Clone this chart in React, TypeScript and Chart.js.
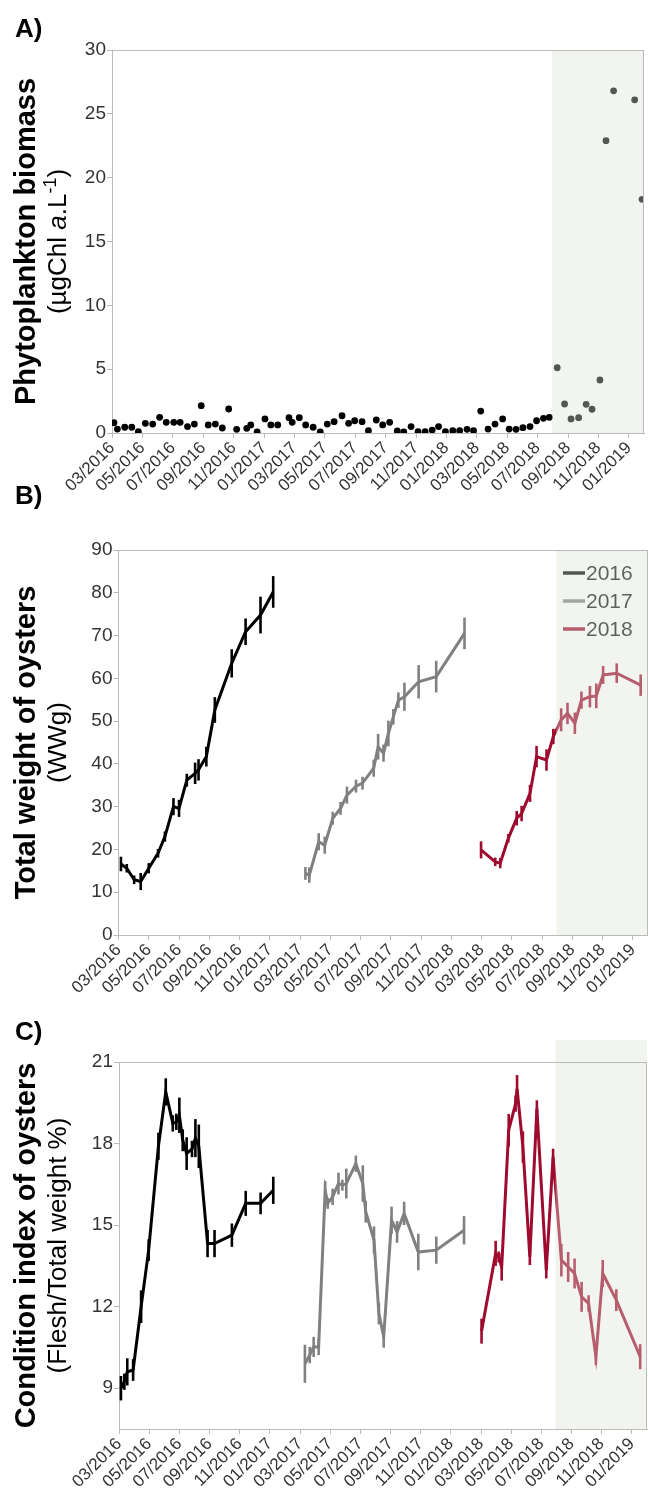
import React, { useEffect, useRef } from "react";
import { Chart, registerables } from "chart.js";
Chart.register(...registerables);

const FONT = "'Liberation Sans', Arial, Helvetica, sans-serif";

// ---------- shared axis data ----------
const xTickLabels = [
  "03/2016", "05/2016", "07/2016", "09/2016", "11/2016", "01/2017",
  "03/2017", "05/2017", "07/2017", "09/2017", "11/2017", "01/2018",
  "03/2018", "05/2018", "07/2018", "09/2018", "11/2018", "01/2019",
];
const shadeStart = "2018-07-30";
const legendLabels = ["2016", "2017", "2018"];
const seriesColors = ["#000000", "#808080", "#9e0b2f"];

// ---------- Panel A: phytoplankton biomass ----------
const chlDates = [
  "2016-03-05", "2016-03-12", "2016-03-27", "2016-04-10", "2016-04-23", "2016-05-07", "2016-05-22", "2016-06-05", "2016-06-18", "2016-07-03",
  "2016-07-16", "2016-07-31", "2016-08-14", "2016-08-28", "2016-09-11", "2016-09-25", "2016-10-09", "2016-10-22", "2016-11-07", "2016-11-27",
  "2016-12-05", "2016-12-18", "2017-01-03", "2017-01-15", "2017-01-29", "2017-02-19", "2017-02-25", "2017-03-11", "2017-03-24", "2017-04-08",
  "2017-04-22", "2017-05-06", "2017-05-20", "2017-06-05", "2017-06-18", "2017-06-30", "2017-07-15", "2017-07-28", "2017-08-13", "2017-08-26",
  "2017-09-09", "2017-09-24", "2017-10-07", "2017-10-22", "2017-11-05", "2017-11-19", "2017-12-03", "2017-12-16", "2017-12-30", "2018-01-14",
  "2018-01-28", "2018-02-11", "2018-02-23", "2018-03-09", "2018-03-24", "2018-04-07", "2018-04-22", "2018-05-05", "2018-05-19", "2018-06-02",
  "2018-06-16", "2018-06-29", "2018-07-13", "2018-07-25", "2018-08-10", "2018-08-25", "2018-09-07", "2018-09-22", "2018-10-07", "2018-10-19",
  "2018-11-04", "2018-11-16", "2018-12-01", "2019-01-13", "2019-01-28",
];
const chlValues = [
  0.81, 0.31, 0.45, 0.45, 0.10, 0.76, 0.70, 1.23, 0.84, 0.84,
  0.84, 0.50, 0.70, 2.14, 0.63, 0.70, 0.39, 1.88, 0.29, 0.37,
  0.63, 0.08, 1.10, 0.63, 0.63, 1.20, 0.84, 1.20, 0.63, 0.45,
  0.08, 0.70, 0.89, 1.35, 0.76, 0.96, 0.89, 0.18, 1.02, 0.63,
  0.84, 0.16, 0.08, 0.50, 0.10, 0.10, 0.23, 0.50, 0.10, 0.18,
  0.18, 0.29, 0.18, 1.72, 0.31, 0.70, 1.10, 0.31, 0.29, 0.42,
  0.50, 0.96, 1.15, 1.23, 5.11, 2.27, 1.10, 1.20, 2.25, 1.86,
  4.15, 22.9, 26.8, 26.1, 18.3,
];
const yTicksA = [0, 5, 10, 15, 20, 25, 30];

// ---------- Panel B: total weight ----------
const weightDates2016 = [
  "2016-03-06", "2016-03-18", "2016-04-02", "2016-04-15", "2016-05-01", "2016-05-20", "2016-06-03", "2016-06-20", "2016-07-01",
  "2016-07-17", "2016-08-03", "2016-08-10", "2016-08-26", "2016-09-12", "2016-10-16", "2016-11-13", "2016-12-13", "2017-01-08",
];
const weight2016 = [16.6, 15.6, 12.9, 12.5, 15.6, 19.1, 23.0, 30.0, 29.6, 36.2, 37.8, 38.6, 41.7, 52.6, 63.5, 70.9, 74.8, 80.2];
const weightErr2016 = [1.7, 1.0, 1.0, 2.0, 1.2, 1.0, 1.2, 2.0, 2.0, 1.5, 2.5, 2.5, 2.3, 3.0, 3.3, 3.1, 4.3, 3.7];

const weightDates2017 = [
  "2017-03-12", "2017-03-20", "2017-04-08", "2017-04-20", "2017-05-06", "2017-05-22", "2017-06-04", "2017-06-22", "2017-07-05", "2017-07-28",
  "2017-08-06", "2017-08-17", "2017-08-27", "2017-09-06", "2017-09-16", "2017-09-28", "2017-10-27", "2017-12-01", "2018-01-28",
];
const weight2017 = [14.4, 14.0, 21.8, 21.0, 27.3, 29.6, 32.7, 34.8, 35.5, 39.0, 44.0, 42.5, 47.1, 51.0, 54.9, 55.7, 59.2, 60.4, 70.5];
const weightErr2017 = [1.5, 1.8, 2.0, 2.0, 1.5, 1.5, 2.0, 1.5, 1.5, 2.0, 3.0, 2.0, 3.0, 1.8, 1.8, 3.3, 3.9, 3.7, 3.7];

const weightDates2018 = [
  "2018-02-28", "2018-03-29", "2018-04-08", "2018-04-24", "2018-05-11", "2018-05-21", "2018-06-07", "2018-06-20", "2018-07-10", "2018-07-24",
  "2018-08-09", "2018-08-22", "2018-09-06", "2018-09-19", "2018-10-06", "2018-10-19", "2018-11-02", "2018-11-29", "2019-01-17",
];
const weight2018 = [19.9, 17.1, 16.8, 22.6, 27.3, 28.4, 33.1, 41.7, 40.9, 46.4, 50.3, 51.8, 49.5, 54.9, 55.7, 55.9, 60.8, 61.2, 58.4];
const weightErr2018 = [2.0, 1.0, 1.2, 1.0, 1.7, 1.8, 2.0, 2.5, 2.5, 1.8, 2.7, 2.5, 2.5, 2.0, 2.5, 2.9, 2.1, 2.3, 2.5];
const yTicksB = [0, 10, 20, 30, 40, 50, 60, 70, 80, 90];

// ---------- Panel C: condition index ----------
const ciDates2016 = [
  "2016-03-05", "2016-03-12", "2016-03-18", "2016-03-30", "2016-04-15", "2016-04-30", "2016-05-20", "2016-06-04", "2016-06-18", "2016-06-25", "2016-07-01",
  "2016-07-08", "2016-07-16", "2016-07-27", "2016-08-03", "2016-08-10", "2016-08-28", "2016-09-11", "2016-10-16", "2016-11-13", "2016-12-13", "2017-01-08",
];
const ci2016 = [9.0, 9.24, 9.6, 9.67, 12.0, 14.08, 17.9, 19.9, 18.74, 18.8, 19.04, 18.12, 17.63, 17.8, 18.2, 17.9, 14.32, 14.32, 14.63, 15.8, 15.8, 16.28];
const ciErr2016 = [0.45, 0.3, 0.5, 0.4, 0.6, 0.4, 0.5, 0.5, 0.3, 0.3, 0.65, 0.4, 0.6, 0.3, 0.7, 0.8, 0.5, 0.5, 0.43, 0.46, 0.4, 0.5];

const ciDates2017 = [
  "2017-03-11", "2017-03-21", "2017-03-29", "2017-04-08", "2017-04-21", "2017-04-26", "2017-05-06", "2017-05-18", "2017-05-26", "2017-06-03", "2017-06-22",
  "2017-07-06", "2017-07-12", "2017-07-29", "2017-08-08", "2017-08-18", "2017-09-03", "2017-09-14", "2017-09-28", "2017-10-27", "2017-12-02", "2018-01-28",
];
const ci2017 = [9.9, 10.22, 10.52, 10.52, 16.28, 15.8, 16.04, 16.53, 16.47, 16.53, 17.26, 16.53, 15.49, 14.45, 11.75, 10.89, 15.18, 14.75, 15.43, 14.01, 14.08, 14.81];
const ciErr2017 = [0.7, 0.3, 0.37, 0.3, 0.34, 0.2, 0.3, 0.4, 0.2, 0.55, 0.3, 0.67, 0.4, 0.5, 0.4, 0.4, 0.5, 0.4, 0.43, 0.67, 0.5, 0.52];

const ciDates2018 = [
  "2018-03-02", "2018-03-31", "2018-04-06", "2018-04-12", "2018-04-26", "2018-05-10", "2018-05-13", "2018-05-25", "2018-06-08", "2018-06-22", "2018-07-11",
  "2018-07-25", "2018-08-11", "2018-08-25", "2018-09-07", "2018-09-21", "2018-10-05", "2018-10-20", "2018-11-03", "2018-11-30", "2019-01-18",
];
const ci2018 = [11.1, 13.96, 13.83, 13.46, 18.49, 19.47, 20.02, 17.87, 13.83, 19.29, 13.34, 17.51, 13.71, 13.46, 13.22, 12.36, 12.12, 10.16, 13.22, 12.24, 10.16];
const ciErr2018 = [0.46, 0.46, 0.2, 0.5, 0.6, 0.3, 0.5, 0.58, 0.3, 0.3, 0.3, 0.3, 0.6, 0.55, 0.55, 0.55, 0.3, 0.3, 0.5, 0.4, 0.46];
const yTicksC = [9, 12, 15, 18, 21];

// ---------- helpers ----------
function monthIndex(s: string): number {
  const [y, m, d] = s.split("-").map(Number);
  const dim = new Date(y, m, 0).getDate();
  return (y - 2016) * 12 + (m - 3) + (d - 1) / dim;
}

const PAGE_W = 648;
const PAGE_H = 1506;

type Box = { left: number; right: number; top: number; bottom: number };

function xScale() {
  return {
    type: "linear",
    min: 0,
    max: 35,
    afterBuildTicks: (s: any) => {
      s.ticks = xTickLabels.map((_, i) => ({ value: i * 2 }));
    },
    ticks: {
      autoSkip: false,
      maxRotation: 45,
      minRotation: 45,
      padding: 0,
      color: "#333",
      font: { family: FONT, size: 17 },
      callback: (v: number) => xTickLabels[Math.round(v / 2)] ?? "",
    },
    grid: { display: true, drawOnChartArea: false, drawTicks: true, tickLength: 5, color: "#bbbbbb" },
    border: { display: true, color: "#bbbbbb", width: 1 },
    afterFit: (s: any) => {
      s.height = 57;
    },
  };
}

function yScale(min: number, max: number, ticks: number[], width: number) {
  return {
    type: "linear",
    min,
    max,
    afterBuildTicks: (s: any) => {
      s.ticks = ticks.map((v) => ({ value: v }));
    },
    ticks: { padding: 1, color: "#333", font: { family: FONT, size: 19 } },
    grid: { display: true, drawOnChartArea: false, drawTicks: true, tickLength: 5, color: "#bbbbbb" },
    border: { display: true, color: "#bbbbbb", width: 1 },
    afterFit: (s: any) => {
      s.width = width;
    },
  };
}

type Part = { t: string; italic?: boolean; sup?: boolean };

function drawRotated(ctx: CanvasRenderingContext2D, x: number, cy: number, parts: Part[], size: number, bold: boolean) {
  ctx.save();
  ctx.translate(x, cy);
  ctx.rotate(-Math.PI / 2);
  ctx.fillStyle = "#000";
  ctx.textBaseline = "alphabetic";
  ctx.textAlign = "left";
  const fontOf = (p: Part) =>
    `${p.italic ? "italic " : ""}${bold ? "bold " : ""}${p.sup ? Math.round(size * 0.7) : size}px ${FONT}`;
  let total = 0;
  for (const p of parts) {
    ctx.font = fontOf(p);
    total += ctx.measureText(p.t).width;
  }
  let cx = -total / 2;
  for (const p of parts) {
    ctx.font = fontOf(p);
    ctx.fillText(p.t, cx, p.sup ? -size * 0.4 : 0);
    cx += ctx.measureText(p.t).width;
  }
  ctx.restore();
}

function decorPlugin(opts: {
  id: string;
  letter: string;
  letterY: number;
  title1: string;
  title2: Part[];
  shadeTop: number;
  legend?: boolean;
}) {
  return {
    id: opts.id,
    afterDatasetsDraw(chart: any) {
      const { ctx, chartArea: ca, scales } = chart;
      const x = scales.x;
      const y = scales.y;
      // error bars
      chart.data.datasets.forEach((ds: any) => {
        if (!ds.errors) return;
        ctx.save();
        ctx.strokeStyle = ds.borderColor;
        ctx.lineWidth = 2.6;
        ds.data.forEach((p: any, j: number) => {
          const e = ds.errors[j];
          const px = x.getPixelForValue(p.x);
          ctx.beginPath();
          ctx.moveTo(px, y.getPixelForValue(p.y - e));
          ctx.lineTo(px, y.getPixelForValue(p.y + e));
          ctx.stroke();
        });
        ctx.restore();
      });
      // legend
      if (opts.legend) {
        ctx.save();
        ctx.font = `21px ${FONT}`;
        ctx.textBaseline = "middle";
        ctx.textAlign = "left";
        legendLabels.forEach((lab, i) => {
          const ly = 573 + i * 28;
          ctx.strokeStyle = seriesColors[i];
          ctx.lineWidth = 3.5;
          ctx.beginPath();
          ctx.moveTo(563, ly);
          ctx.lineTo(585, ly);
          ctx.stroke();
          ctx.fillStyle = "#111";
          ctx.fillText(lab, 586, ly + 1);
        });
        ctx.restore();
      }
      // shaded period overlay
      const sx = x.getPixelForValue(monthIndex(shadeStart));
      ctx.save();
      ctx.fillStyle = "rgba(222,230,212,0.38)";
      ctx.fillRect(sx, opts.shadeTop, ca.right - sx, ca.bottom - opts.shadeTop);
      // top and right frame
      ctx.strokeStyle = "#bbbbbb";
      ctx.lineWidth = 1;
      ctx.beginPath();
      ctx.moveTo(ca.left, ca.top + 0.5);
      ctx.lineTo(ca.right, ca.top + 0.5);
      ctx.moveTo(ca.right - 0.5, ca.top);
      ctx.lineTo(ca.right - 0.5, ca.bottom);
      ctx.stroke();
      ctx.restore();
    },
    afterDraw(chart: any) {
      const { ctx, chartArea: ca } = chart;
      const cy = (ca.top + ca.bottom) / 2;
      drawRotated(ctx, 35, cy, [{ t: opts.title1 }], 29, true);
      drawRotated(ctx, 66, cy, opts.title2, 26, false);
      ctx.save();
      ctx.fillStyle = "#000";
      ctx.font = `bold 26px ${FONT}`;
      ctx.textBaseline = "alphabetic";
      ctx.textAlign = "left";
      ctx.fillText(opts.letter, 15, opts.letterY);
      ctx.restore();
    },
  };
}

function baseOptions(box: Box, yOpts: any) {
  return {
    responsive: false,
    maintainAspectRatio: false,
    animation: false,
    devicePixelRatio: 1,
    events: [],
    layout: {
      padding: {
        left: 0,
        top: box.top,
        right: PAGE_W - box.right,
        bottom: PAGE_H - box.bottom - 57,
      },
    },
    plugins: { legend: { display: false }, tooltip: { enabled: false }, title: { display: false } },
    scales: { x: xScale(), y: yOpts },
  };
}

function lineSet(dates: string[], vals: number[], errs: number[], color: string) {
  return {
    type: "line",
    data: dates.map((d, i) => ({ x: monthIndex(d), y: vals[i] })),
    errors: errs,
    borderColor: color,
    backgroundColor: color,
    borderWidth: 3,
    pointRadius: 0,
    tension: 0,
    fill: false,
  };
}

function makeA(c: HTMLCanvasElement) {
  const box = { left: 112, right: 647, top: 50, bottom: 433 };
  return new Chart(c, {
    type: "scatter",
    data: {
      datasets: [
        {
          data: chlDates.map((d, i) => ({ x: monthIndex(d), y: chlValues[i] })),
          backgroundColor: "#000",
          borderWidth: 0,
          pointRadius: 3.4,
        },
      ],
    },
    options: baseOptions(box, yScale(0, 30, yTicksA, box.left)) as any,
    plugins: [
      decorPlugin({
        id: "decorA",
        letter: "A)",
        letterY: 37,
        title1: "Phytoplankton biomass",
        title2: [{ t: "(µgChl " }, { t: "a", italic: true }, { t: ".L" }, { t: "-1", sup: true }, { t: ")" }],
        shadeTop: 50,
      }),
    ],
  } as any);
}

function makeB(c: HTMLCanvasElement) {
  const box = { left: 118.5, right: 648, top: 550, bottom: 935 };
  return new Chart(c, {
    type: "line",
    data: {
      datasets: [
        lineSet(weightDates2016, weight2016, weightErr2016, seriesColors[0]),
        lineSet(weightDates2017, weight2017, weightErr2017, seriesColors[1]),
        lineSet(weightDates2018, weight2018, weightErr2018, seriesColors[2]),
      ],
    },
    options: baseOptions(box, yScale(0, 90, yTicksB, box.left)) as any,
    plugins: [
      decorPlugin({
        id: "decorB",
        letter: "B)",
        letterY: 504,
        title1: "Total weight of oysters",
        title2: [{ t: "(WWg)" }],
        shadeTop: 550,
        legend: true,
      }),
    ],
  } as any);
}

function makeC(c: HTMLCanvasElement) {
  const box = { left: 119, right: 647, top: 1062, bottom: 1429 };
  return new Chart(c, {
    type: "line",
    data: {
      datasets: [
        lineSet(ciDates2016, ci2016, ciErr2016, seriesColors[0]),
        lineSet(ciDates2017, ci2017, ciErr2017, seriesColors[1]),
        lineSet(ciDates2018, ci2018, ciErr2018, seriesColors[2]),
      ],
    },
    options: baseOptions(box, yScale(7.5, 21, yTicksC, box.left)) as any,
    plugins: [
      decorPlugin({
        id: "decorC",
        letter: "C)",
        letterY: 1040,
        title1: "Condition index of oysters",
        title2: [{ t: "(Flesh/Total weight %)" }],
        shadeTop: 1040,
      }),
    ],
  } as any);
}

function Layer({ make }: { make: (c: HTMLCanvasElement) => Chart }) {
  const ref = useRef<HTMLCanvasElement>(null);
  useEffect(() => {
    const ch = make(ref.current as HTMLCanvasElement);
    return () => ch.destroy();
  }, [make]);
  return (
    <canvas
      ref={ref}
      width={PAGE_W}
      height={PAGE_H}
      style={{ position: "absolute", left: 0, top: 0, width: PAGE_W, height: PAGE_H }}
    />
  );
}

export default function App() {
  return (
    <div style={{ position: "absolute", left: 0, top: 0, width: PAGE_W, height: PAGE_H, background: "#fff", overflow: "hidden" }}>
      <Layer make={makeA} />
      <Layer make={makeB} />
      <Layer make={makeC} />
    </div>
  );
}
